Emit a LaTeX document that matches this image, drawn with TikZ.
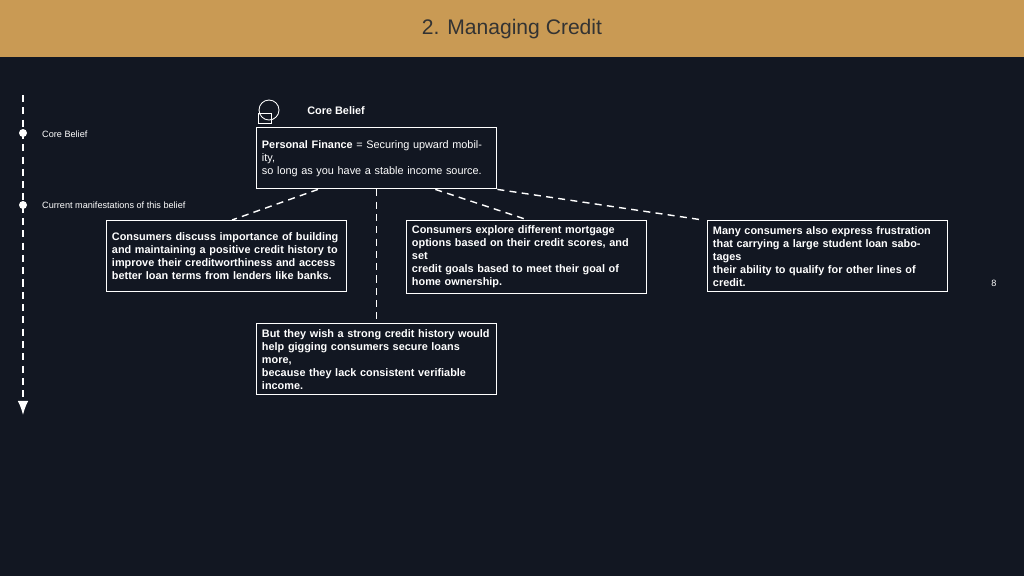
\documentclass[tikz,border=0pt]{standalone}
\usepackage{fontspec}
\setmainfont{Liberation Sans}
\usetikzlibrary{arrows.meta}
\definecolor{bgdark}{HTML}{121722}
\definecolor{headbar}{HTML}{C99A54}
\tikzset{
  belief/.style={draw=white,thick,anchor=north west,align=left,inner xsep=3pt,inner ysep=3pt,text=white,
    minimum width=4.8cm,minimum height=1.42cm,text width=4.8cm-6pt,font=\fontsize{6.2}{7.4}\selectfont},
  link/.style={white,thick,dashed,dash pattern=on 4pt off 3pt},
  side/.style={text=white,anchor=west,font=\fontsize{5.2}{6}\selectfont}
}
\begin{document}
\begin{tikzpicture}[x=0.02cm,y=-0.02cm]
\fill[bgdark] (0,0) rectangle (1024,576);
\fill[headbar] (0,0) rectangle (1024,57);
\node[text=black!80,font=\fontsize{12}{14}\selectfont] (title) at (512,29) {2. Managing Credit};
% timeline
\coordinate (tltop) at (23,95);
\coordinate (tlend) at (23,415);
\draw[link,-{Latex[length=8pt,width=6pt]}] (tltop) -- (tlend);
\fill[white] (23,133) circle (4);
\fill[white] (23,205) circle (4);
\node[side] (lcore) at (36,134) {Core Belief};
\node[side] (lcur) at (36,205) {Current manifestations of this belief};
% icon
\begin{scope}[white,line width=0.5pt]
\draw (269,110) circle (10);
\draw (258,113) rectangle (271,123);
\end{scope}
\node[text=white,font=\bfseries\fontsize{6.2}{7.4}\selectfont] (corehead) at (336,111) {Core Belief};
% boxes
\node[belief,minimum height=1.22cm] (core) at (256,127)
  {\textbf{Personal Finance} = Securing upward mobility,\\so long as you have a stable income source.};
\node[belief] (left) at (106,220)
  {\bfseries Consumers discuss importance of building\\and maintaining a positive credit history to\\improve their creditworthiness and access\\better loan terms from lenders like banks.};
\node[belief] (mid) at (406,220)
  {\bfseries Consumers explore different mortgage\\options based on their credit scores, and set\\credit goals based to meet their goal of\\home ownership.};
\node[belief] (right) at (707,220)
  {\bfseries Many consumers also express frustration\\that carrying a large student loan sabotages\\their ability to qualify for other lines of credit.};
\node[belief] (bottom) at (256,323)
  {\bfseries But they wish a strong credit history would\\help gigging consumers secure loans more,\\because they lack consistent verifiable\\income.};
% connectors
\draw[link] ([xshift=62*0.02cm]core.south west) -- ([xshift=126*0.02cm]left.north west);
\draw[link] (core.south) -- (bottom.north);
\draw[link] ([xshift=-62*0.02cm]core.south east) -- ([xshift=122*0.02cm]mid.north west);
\draw[link] (core.south east) -- ([xshift=-4*0.02cm]right.north west);
\node[text=white,font=\fontsize{5.2}{6}\selectfont] (pnum) at (994,283) {8};
\end{tikzpicture}
\end{document}
